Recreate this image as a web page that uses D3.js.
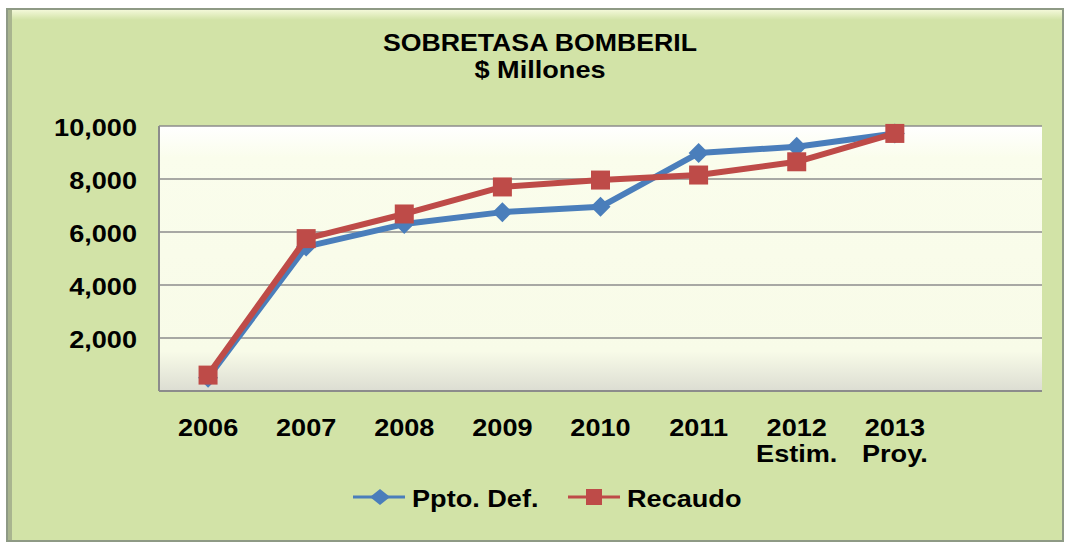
<!DOCTYPE html>
<html>
<head>
<meta charset="utf-8">
<script src="https://cdnjs.cloudflare.com/ajax/libs/d3/7.8.5/d3.min.js"></script>
<style>
  body { margin: 0; background: #fff; }
  svg text { font-family: "Liberation Sans", Arial, sans-serif; font-weight: bold; fill: #000; }
</style>
</head>
<body>
<svg id="vis" width="1067" height="546"></svg>
<script>
// categories (last slot is empty, as in the original)
var years = ["2006", "2007", "2008", "2009", "2010", "2011", "2012", "2013", ""];
var subLabels = ["", "", "", "", "", "", "Estim.", "Proy.", ""];
var pptoDef = [500, 5450, 6300, 6750, 6950, 8980, 9220, 9720];
var recaudo = [600, 5750, 6680, 7700, 7960, 8150, 8650, 9720];
var yTicks = [2000, 4000, 6000, 8000, 10000];
var seriesNames = ["Ppto. Def.", "Recaudo"];
var seriesColors = ["#4a7ebb", "#be4b48"];

var STRETCH = 1.13; // the original lettering is a bit wider than Liberation Sans

var svg = d3.select("#vis");
var defs = svg.append("defs");

var plot = { left: 159, right: 1042, top: 126, bottom: 391 };

// stretched text helper
function label(g, x, y, txt, size, anchor, sx) {
    return g.append("text")
        .attr("transform", "translate(" + x + "," + y + ") scale(" + (sx || STRETCH) + ",1)")
        .attr("text-anchor", anchor || "middle")
        .style("font-size", size + "px")
        .text(txt);
}

// frame
var fg = defs.append("linearGradient").attr("id", "plotFill")
    .attr("x1", 0).attr("y1", 0).attr("x2", 0).attr("y2", 1);
fg.append("stop").attr("offset", "0").attr("stop-color", "#ffffff");
fg.append("stop").attr("offset", "0.12").attr("stop-color", "#fafdec");
fg.append("stop").attr("offset", "0.85").attr("stop-color", "#f8fbe8");
fg.append("stop").attr("offset", "1").attr("stop-color", "#dcddd2");

var tg = defs.append("linearGradient").attr("id", "topHi")
    .attr("x1", 0).attr("y1", 0).attr("x2", 0).attr("y2", 1);
tg.append("stop").attr("offset", "0").attr("stop-color", "#f3f8d8");
tg.append("stop").attr("offset", "1").attr("stop-color", "#d2e3a7");

svg.append("rect")
    .attr("x", 7).attr("y", 9).attr("width", 1056).attr("height", 532)
    .attr("fill", "#d2e3a7").attr("stroke", "#8e9a85").attr("stroke-width", 2);
svg.append("rect")
    .attr("x", 8).attr("y", 10).attr("width", 1054).attr("height", 10)
    .attr("fill", "url(#topHi)");
svg.append("rect")
    .attr("x", 8).attr("y", 10).attr("width", 4).attr("height", 530)
    .attr("fill", "#a9b58f");

svg.append("rect")
    .attr("x", plot.left).attr("y", plot.top)
    .attr("width", plot.right - plot.left).attr("height", plot.bottom - plot.top)
    .attr("fill", "url(#plotFill)");

var x = d3.scaleBand().domain(d3.range(years.length)).range([plot.left, plot.right]);
var y = d3.scaleLinear().domain([0, 10000]).range([plot.bottom, plot.top]);

// gridlines
svg.append("g").selectAll("line").data(yTicks).join("line")
    .attr("x1", plot.left).attr("x2", plot.right)
    .attr("y1", d => y(d)).attr("y2", d => y(d))
    .attr("stroke", "#8c8c8c").attr("stroke-width", 1.5);

// axes frame lines
svg.append("line").attr("x1", plot.left).attr("x2", plot.left)
    .attr("y1", plot.top).attr("y2", plot.bottom)
    .attr("stroke", "#8c8c8c").attr("stroke-width", 2);
svg.append("line").attr("x1", plot.left).attr("x2", plot.right)
    .attr("y1", plot.bottom).attr("y2", plot.bottom)
    .attr("stroke", "#8c8c8c").attr("stroke-width", 2);

// y labels
var yAxis = d3.axisLeft(y).tickValues(yTicks).tickFormat(d3.format(",")).tickSize(0).tickPadding(0);
var ya = svg.append("g").attr("transform", "translate(" + plot.left + ",0)").call(yAxis);
ya.select(".domain").remove();
ya.selectAll("text")
    .attr("x", null).attr("dy", null)
    .attr("transform", "translate(-22,9) scale(" + STRETCH + ",1)")
    .style("font-size", "24px").attr("fill", "#000");

// x labels
var xl = svg.append("g");
years.forEach(function (d, i) {
    var cx = x(i) + x.bandwidth() / 2;
    label(xl, cx, 436, d, 24);
    if (subLabels[i]) label(xl, cx, 462, subLabels[i], 24);
});

// title
label(svg, 540, 51, "SOBRETASA BOMBERIL", 23, "middle", 1.16);
label(svg, 540, 78, "$ Millones", 24, "middle", 1.13);

var line = d3.line().x((d, i) => x(i) + x.bandwidth() / 2).y(d => y(d));

function diamond(g, cx, cy, rx, ry, color) {
    g.append("path")
        .attr("d", "M" + cx + "," + (cy - ry) + "L" + (cx + rx) + "," + cy + "L" + cx + "," + (cy + ry) + "L" + (cx - rx) + "," + cy + "Z")
        .attr("fill", color);
}
function square(g, cx, cy, s, color) {
    g.append("rect").attr("x", cx - s / 2).attr("y", cy - s / 2)
        .attr("width", s).attr("height", s).attr("fill", color);
}

var series = [pptoDef, recaudo];
series.forEach(function (data, k) {
    var g = svg.append("g");
    g.append("path").datum(data).attr("d", line)
        .attr("fill", "none").attr("stroke", seriesColors[k])
        .attr("stroke-width", 6).attr("stroke-linejoin", "round");
    data.forEach(function (v, i) {
        var cx = x(i) + x.bandwidth() / 2, cy = y(v);
        if (k === 0) diamond(g, cx, cy, 10, 10, seriesColors[k]);
        else square(g, cx, cy, 19, seriesColors[k]);
    });
});

// legend
var legendX = [353, 568];
var lg = svg.append("g");
seriesNames.forEach(function (name, k) {
    var lx = legendX[k], ly = 497;
    lg.append("line").attr("x1", lx).attr("x2", lx + 52).attr("y1", ly).attr("y2", ly)
        .attr("stroke", seriesColors[k]).attr("stroke-width", 3);
    if (k === 0) diamond(lg, lx + 27, ly, 10, 8, seriesColors[k]);
    else square(lg, lx + 26, ly, 16, seriesColors[k]);
    label(lg, lx + 59, 507, name, 24, "start");
});
</script>
</body>
</html>
